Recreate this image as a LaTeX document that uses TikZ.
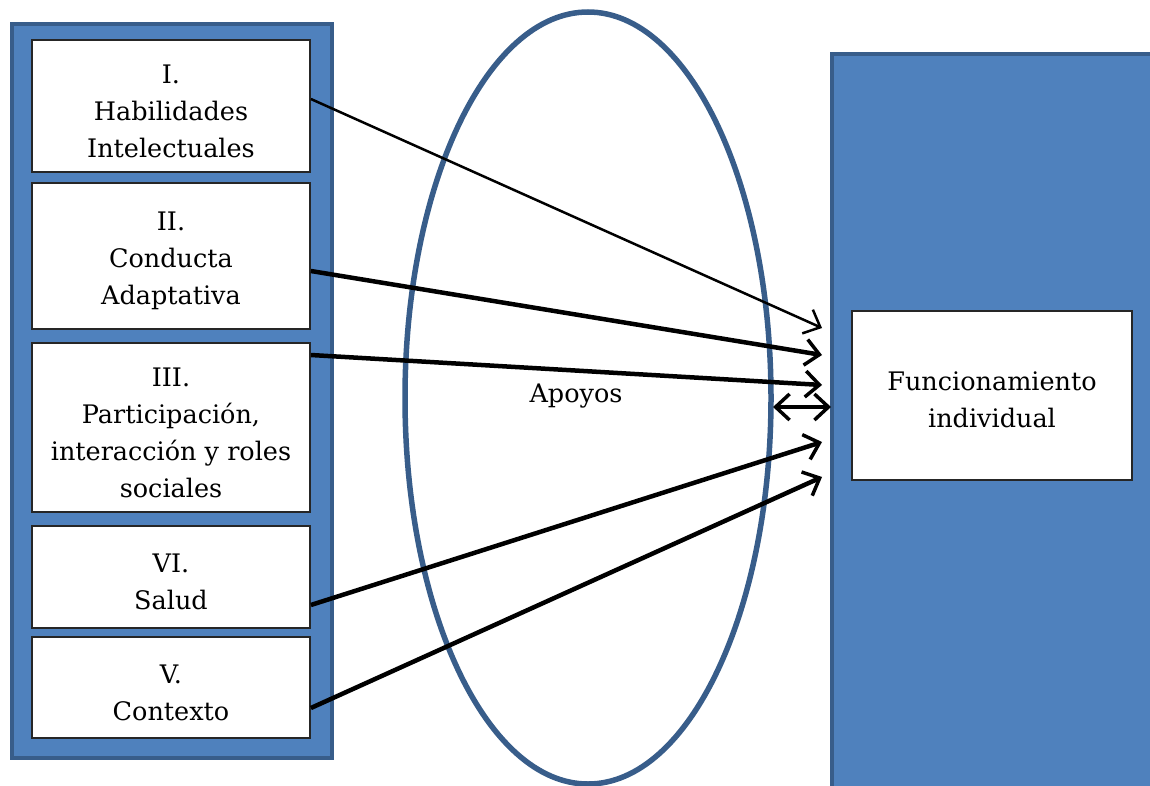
\documentclass[tikz,border=0pt]{standalone}
\usepackage{fontspec}
\setmainfont{DejaVu Serif}
\usetikzlibrary{arrows.meta}
\definecolor{fillblue}{HTML}{4F81BD}
\definecolor{edgeblue}{HTML}{385D8A}
\begin{document}
\begin{tikzpicture}[x=1pt,y=-1pt,
  panel/.style={fill=fillblue,draw=edgeblue,line width=3.5pt},
  itembox/.style={fill=white,draw=black!85,line width=1.8pt,inner sep=0pt},
  itemtext/.style={align=center,font=\fontsize{25.5}{37}\selectfont,inner sep=0pt},
  barb/.tip={Straight Barb[length=14pt,width=26pt,line width=3.5pt]},
  arr/.style={-barb,line width=4.5pt},
  thinarr/.style={-{Straight Barb[length=14pt,width=26pt,line width=2.5pt]},line width=2.5pt}]
\useasboundingbox (0,0) rectangle (1150,786);
% left panel
\draw[panel] (12,24) rectangle (332,758);
\node[itembox,minimum width=278pt,minimum height=132pt] (b1) at (171,106) {};
\node[itembox,minimum width=278pt,minimum height=146pt] (b2) at (171,256) {};
\node[itembox,minimum width=278pt,minimum height=169pt] (b3) at (171,427.5) {};
\node[itembox,minimum width=278pt,minimum height=102pt] (b4) at (171,577) {};
\node[itembox,minimum width=278pt,minimum height=101pt] (b5) at (171,687.5) {};
\node[itemtext] (l1) at ([yshift=-5pt]b1.center) {I.\\Habilidades\\Intelectuales};
\node[itemtext] (l2) at ([yshift=-5pt]b2.center) {II.\\Conducta\\Adaptativa};
\node[itemtext] (l3) at ([yshift=-5pt]b3.center) {III.\\Participación,\\interacción y roles\\sociales};
\node[itemtext] (l4) at ([yshift=-5pt]b4.center) {VI.\\Salud};
\node[itemtext] (l5) at ([yshift=-5pt]b5.center) {V.\\Contexto};
% ellipse
\draw[draw=edgeblue,line width=5.5pt] (588,398) ellipse [x radius=183, y radius=386];
\node[itemtext] (apoyos) at (576,396) {Apoyos};
% right panel
\draw[panel] (832,54) rectangle (1160,800);
\node[itembox,minimum width=280pt,minimum height=169pt] (fi) at (992,395.5) {};
\node[itemtext] (fit) at ([yshift=-4pt]fi.center) {Funcionamiento\\individual};
% connector endpoints
\coordinate (t1) at (822,328);
\coordinate (t2) at (822,355);
\coordinate (t3) at (822,385);
\coordinate (t5) at (822,442);
\coordinate (t6) at (822,477);
\coordinate (dl) at (773,407);
\coordinate (dr) at (831,407);
\draw[thinarr] (b1.east |- 0,99) -- (t1);
\draw[arr] (b2.east |- 0,271) -- (t2);
\draw[arr] (b3.east |- 0,355) -- (t3);
\draw[arr] (b4.east |- 0,605) -- (t5);
\draw[arr] (b5.east |- 0,708) -- (t6);
\draw[barb-barb,line width=4.5pt] (dl) -- (dr);
\end{tikzpicture}
\end{document}
